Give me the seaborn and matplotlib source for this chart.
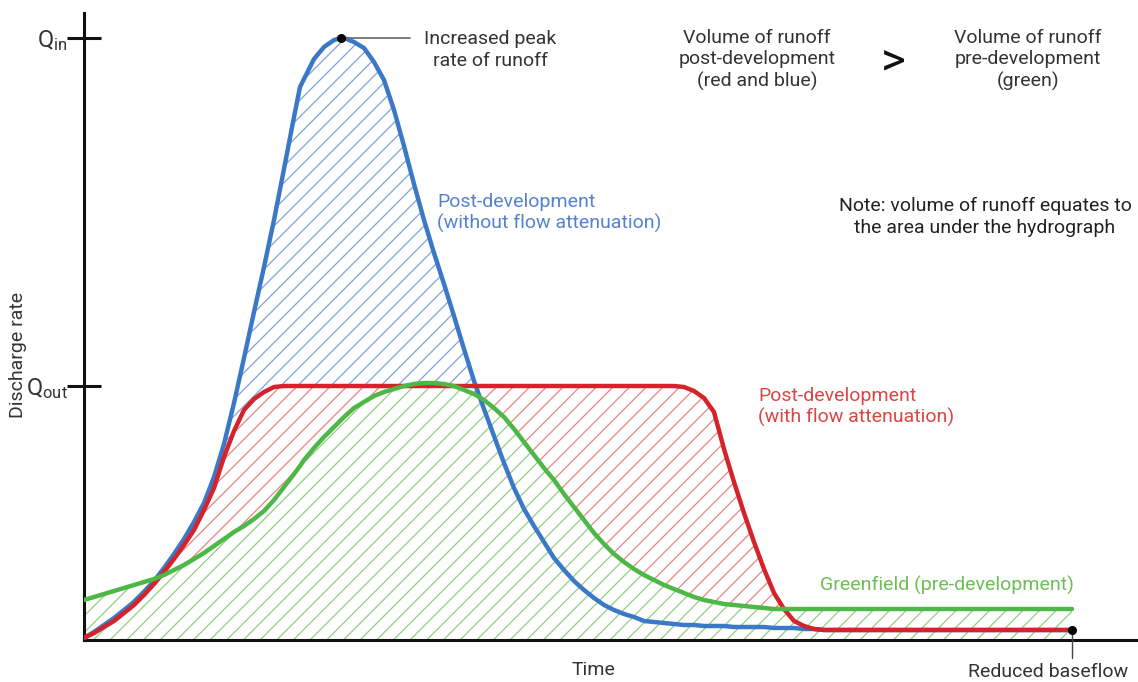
import numpy as np
import pandas as pd
import matplotlib
matplotlib.use("Agg")
import matplotlib.pyplot as plt
import seaborn as sns

# hydrograph (time and discharge in arbitrary units)
time = np.array([0, 10, 20, 30, 40, 50, 60, 70, 80, 90, 100, 110, 120, 130, 140, 150, 160, 170,
                 180, 190, 200, 210, 216, 220, 230, 240, 250, 257, 260, 270, 280, 290, 300, 310,
                 320, 330, 340, 350, 360, 370, 380, 390, 400, 410, 420, 430, 440, 450, 460, 470,
                 480, 490, 500, 510, 520, 530, 540, 550, 560, 570, 580, 590, 600, 610, 620, 630,
                 640, 650, 660, 670, 680, 690, 700, 710, 720, 730, 740, 750, 760, 800, 860, 920,
                 988])

blue = np.array([2, 8, 15, 22, 30, 38, 48, 59, 72, 86, 101, 118, 137, 163, 196, 237, 282, 328,
                 373, 420, 471, 523, 553, 561, 581, 593, 600, 602, 602, 598, 592, 578, 560, 530,
                 494, 456, 420, 387, 356, 324, 291, 259, 231, 204, 177, 152, 131, 114, 98, 82,
                 70, 59, 50, 42, 35, 30, 26, 23, 19, 18, 17, 16, 15, 15, 14, 14,
                 14, 13, 13, 13, 13, 12, 12, 12, 11, 11, 10, 10, 10, 10, 10, 10,
                 10])

red = np.array([2, 7, 13, 19, 27, 35, 45, 56, 68, 81, 95, 110, 130, 152, 183, 209, 230, 241,
                248, 253, 254, 254, 254, 254, 254, 254, 254, 254, 254, 254, 254, 254, 254, 254,
                254, 254, 254, 254, 254, 254, 254, 254, 254, 254, 254, 254, 254, 254, 254, 254,
                254, 254, 254, 254, 254, 254, 254, 254, 254, 254, 254, 254, 253, 249, 242, 228,
                191, 158, 127, 98, 71, 47, 31, 19, 14, 11, 10, 10, 10, 10, 10, 10,
                10])

green = np.array([40, 43, 46, 49, 52, 55, 58, 61, 65, 70, 75, 81, 87, 94, 101, 108, 114, 121,
                  129, 140, 153, 166, 174, 180, 192, 203, 213, 220, 223, 232, 238, 244, 248, 251,
                  254, 256, 257, 257, 256, 254, 250, 246, 240, 232, 223, 211, 198, 185, 172, 160,
                  146, 133, 120, 107, 96, 86, 78, 71, 65, 60, 55, 51, 47, 43, 40, 38,
                  36, 35, 34, 33, 32, 31, 31, 31, 31, 31, 31, 31, 31, 31, 31, 31,
                  31])

q_in = 602
q_out = 254
peak_time = 257
end_time = 988
baseflow = 10

df = pd.DataFrame({"time": np.tile(time, 3),
                   "discharge": np.concatenate([blue, red, green]),
                   "case": ["blue"] * len(time) + ["red"] * len(time) + ["green"] * len(time)})

sns.set_theme(style="white")
plt.rcParams["font.family"] = ["Roboto", "DejaVu Sans"]
plt.rcParams["hatch.linewidth"] = 0.9
plt.rcParams["mathtext.fontset"] = "custom"
plt.rcParams["mathtext.rm"] = "Roboto"

fig = plt.figure(figsize=(11.38, 6.82), dpi=100)
ax = fig.add_axes([84 / 1138, 42 / 682, 1054 / 1138, 627 / 682])

c_blue, c_red, c_green = "#3b78c6", "#d3242b", "#4db845"
h_blue, h_red, h_green = "#7fa3dc", "#e98484", "#93cf83"
txt = "#333333"

# hatched areas
ax.fill_between(time, 0, green, facecolor="none", edgecolor=h_green, hatch="//", linewidth=0)
ax.fill_between(time, green, red, where=red > green, interpolate=True,
                facecolor="none", edgecolor=h_red, hatch="//", linewidth=0)
top = np.maximum(red, green)
ax.fill_between(time, top, blue, where=blue > top, interpolate=True,
                facecolor="none", edgecolor=h_blue, hatch="//", linewidth=0)

colors = {"blue": c_blue, "red": c_red, "green": c_green}
for i, case in enumerate(["blue", "red", "green"]):
    sub = df[df["case"] == case]
    sns.lineplot(data=sub, x="time", y="discharge", ax=ax, color=colors[case],
                 linewidth=3.2, estimator=None, sort=False, zorder=3 + i)
for ln in ax.lines:
    ln.set_solid_joinstyle("round")
    ln.set_solid_capstyle("round")

ax.set_xlim(0, 1054)
ax.set_ylim(0, 627)
for s in ["top", "right"]:
    ax.spines[s].set_visible(False)
for s in ["left", "bottom"]:
    ax.spines[s].set_color("#111111")
    ax.spines[s].set_linewidth(2.2)

ax.set_xticks([])
ax.set_yticks([q_out, q_in])
ax.set_yticklabels([r"$\mathregular{Q_{out}}$", r"$\mathregular{Q_{in}}$"], fontsize=17, color=txt)
ax.tick_params(axis="y", left=True, direction="inout", length=24, width=2.2,
               color="#111111", pad=0)
ax.set_xlabel("")
ax.set_ylabel("")

ax.text(-66, 285, "Discharge rate", rotation=90, ha="center", va="center",
        fontsize=14, color=txt, clip_on=False)
ax.text(509, -30, "Time", ha="center", va="center", fontsize=14, color=txt, clip_on=False)

# peak marker and leader
ax.plot([peak_time, 326], [q_in, q_in], color="#666666", linewidth=1.2, zorder=6)
ax.scatter([peak_time], [q_in], s=30, color="black", zorder=7)
ax.text(406, 590, "Increased peak\nrate of runoff", ha="center", va="center",
        fontsize=14, color=txt, linespacing=1.25)

# reduced baseflow marker
ax.plot([end_time, end_time], [baseflow, -18], color="#444444", linewidth=1, clip_on=False, zorder=6)
ax.scatter([end_time], [baseflow], s=30, color="black", zorder=7, clip_on=False)
ax.text(884, -32, "Reduced baseflow", ha="left", va="center", fontsize=14, color=txt, clip_on=False)

ax.text(673, 580, "Volume of runoff\npost-development\n(red and blue)", ha="center", va="center",
        fontsize=14, color=txt, linespacing=1.25)
ax.text(809, 578, ">", ha="center", va="center", fontsize=34, color="#111111")
ax.text(944, 580, "Volume of runoff\npre-development\n(green)", ha="center", va="center",
        fontsize=14, color=txt, linespacing=1.25)
ax.text(901, 423, "Note: volume of runoff equates to\nthe area under the hydrograph", ha="center",
        va="center", fontsize=14, color="#222222", linespacing=1.25)

ax.text(353, 427, "Post-development\n(without flow attenuation)", ha="left", va="center",
        fontsize=14, color="#5383cf", linespacing=1.2)
ax.text(674, 233, "Post-development\n(with flow attenuation)", ha="left", va="center",
        fontsize=14, color="#dc4545", linespacing=1.2)
ax.text(736, 55, "Greenfield (pre-development)", ha="left", va="center",
        fontsize=14, color="#6cbf55")

fig.savefig("out.png", dpi=100)
